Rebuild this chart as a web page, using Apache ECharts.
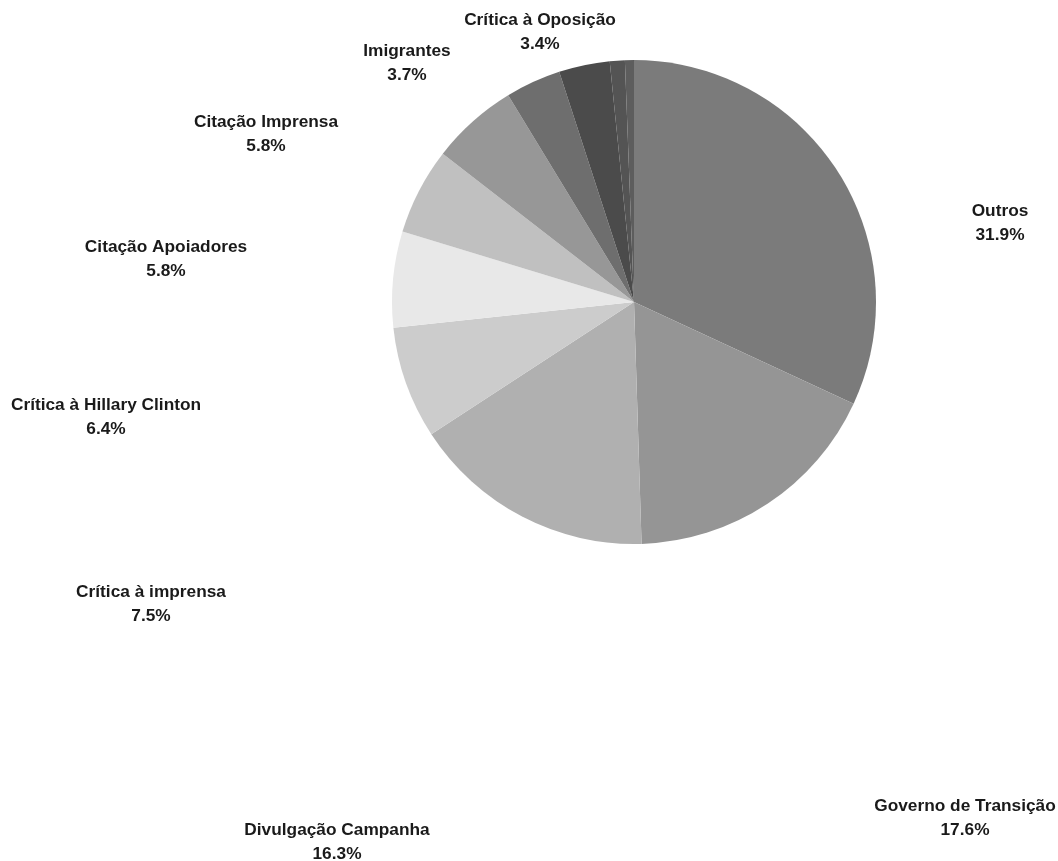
<!DOCTYPE html>
<html>
<head>
<meta charset="utf-8">
<script src="https://cdn.jsdelivr.net/npm/echarts@6/dist/echarts.min.js"></script>
<style>
  html, body { margin: 0; padding: 0; background: #fff; }
  #main { width: 1058px; height: 861px; }
</style>
</head>
<body>
<div id="main"></div>
<script>
// slice data, clockwise from 12 o'clock (values are percentages)
var categories = ['Outros', 'Governo de Transição', 'Divulgação Campanha', 'Crítica à imprensa',
  'Crítica à Hillary Clinton', 'Citação Apoiadores', 'Citação Imprensa', 'Imigrantes',
  'Crítica à Oposição', 'Outro tema A', 'Outro tema B'];
var values = [31.9, 17.6, 16.3, 7.5, 6.4, 5.8, 5.8, 3.7, 3.4, 1.0, 0.6];
var showLabel = [true, true, true, true, true, true, true, true, true, false, false];

// styling (kept apart from data)
var sliceColors = ['#7b7b7b', '#959595', '#b0b0b0', '#cccccc', '#e8e8e8', '#c0c0c0',
  '#979797', '#6e6e6e', '#4b4b4b', '#545454', '#5d5d5d'];
// label block centres as placed in the original layout
var labelPos = [[1000, 223], [965, 818], [337, 842], [151, 604], [106, 417],
  [166, 259], [266, 134], [407, 63], [540, 32], [0, 0], [0, 0]];

var chart = echarts.init(document.getElementById('main'));

var seriesData = [];
for (var i = 0; i < categories.length; i++) {
  seriesData.push({
    name: categories[i],
    value: values[i],
    itemStyle: { color: sliceColors[i] },
    label: { show: showLabel[i] }
  });
}

var option = {
  animation: false,
  backgroundColor: '#fff',
  series: [
    {
      type: 'pie',
      center: [634, 302],
      radius: 242,
      startAngle: 90,
      clockwise: true,
      avoidLabelOverlap: false,
      data: seriesData,
      itemStyle: { borderWidth: 0 },
      label: {
        position: 'outside',
        formatter: function (p) {
          return p.name + '\n' + p.value.toFixed(1) + '%';
        },
        fontFamily: 'Liberation Sans',
        fontWeight: 'bold',
        fontSize: 17.3,
        lineHeight: 24,
        color: '#1a1a1a',
        align: 'center'
      },
      labelLine: { show: false },
      labelLayout: function (params) {
        var p = labelPos[params.dataIndex];
        return { x: p[0], y: p[1], align: 'center', verticalAlign: 'middle' };
      }
    }
  ]
};
chart.setOption(option);
</script>
</body>
</html>
